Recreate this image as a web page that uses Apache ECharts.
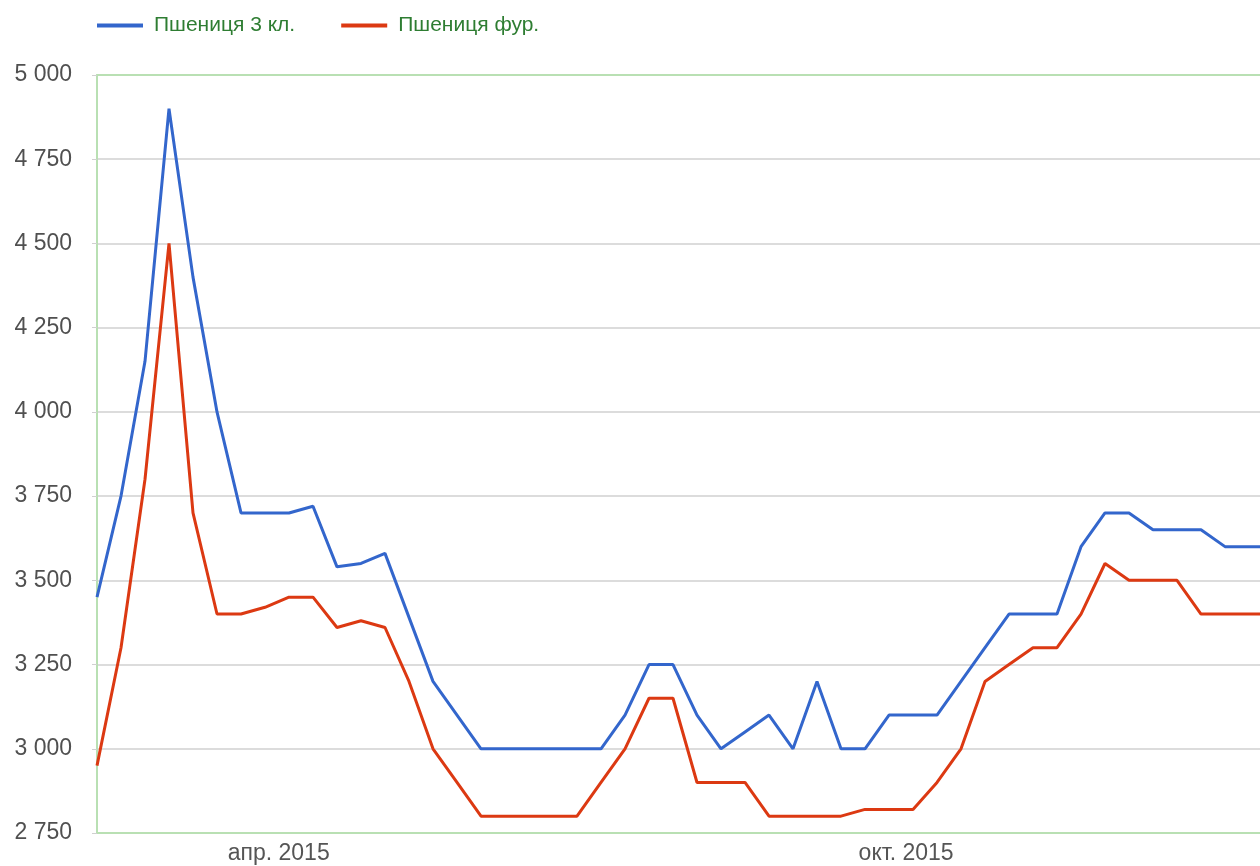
<!DOCTYPE html>
<html>
<head>
<meta charset="utf-8">
<script src="https://cdn.jsdelivr.net/npm/echarts@6/dist/echarts.min.js"></script>
<style>
html,body{margin:0;padding:0;background:#fff;}
#chart{width:1260px;height:866px;}
</style>
</head>
<body>
<div id="chart"></div>
<script>
// Weekly dates
const dates = [
  '2015-02-07','2015-02-14','2015-02-21','2015-02-28','2015-03-07','2015-03-14','2015-03-21','2015-03-28',
  '2015-04-04','2015-04-11','2015-04-18','2015-04-25','2015-05-02','2015-05-09','2015-05-16','2015-05-23',
  '2015-05-30','2015-06-06','2015-06-13','2015-06-20','2015-06-27','2015-07-04','2015-07-11','2015-07-18',
  '2015-07-25','2015-08-01','2015-08-08','2015-08-15','2015-08-22','2015-08-29','2015-09-05','2015-09-12',
  '2015-09-19','2015-09-26','2015-10-03','2015-10-10','2015-10-17','2015-10-24','2015-10-31','2015-11-07',
  '2015-11-14','2015-11-21','2015-11-28','2015-12-05','2015-12-12','2015-12-19','2015-12-26','2016-01-02',
  '2016-01-09','2016-01-16'
];
const wheat3 = [
  3450,3750,4150,4900,4400,4000,3700,3700,
  3700,3720,3540,3550,3580,3390,3200,3100,
  3000,3000,3000,3000,3000,3000,3100,3250,
  3250,3100,3000,3050,3100,3000,3200,3000,
  3000,3100,3100,3100,3200,3300,3400,3400,
  3400,3600,3700,3700,3650,3650,3650,3600,
  3600,3600
];
const wheatFeed = [
  2950,3300,3800,4500,3700,3400,3400,3420,
  3450,3450,3360,3380,3360,3200,3000,2900,
  2800,2800,2800,2800,2800,2900,3000,3150,
  3150,2900,2900,2900,2800,2800,2800,2800,
  2820,2820,2820,2900,3000,3200,3250,3300,
  3300,3400,3550,3500,3500,3500,3400,3400,
  3400,3400
];
const seriesNames = ['Пшениця 3 кл.','Пшениця фур.'];
const xLabelDates = ['2015-04-01','2015-10-01'];
const xLabelTexts = ['апр. 2015','окт. 2015'];
const yTicks = [2750,3000,3250,3500,3750,4000,4250,4500,4750,5000];

const DAY = 86400000;
function dayNum(s){const p=s.split('-');return Math.round(Date.UTC(+p[0],+p[1]-1,+p[2])/DAY);}
const d0 = dayNum(dates[0]);
const gridLeft = 97, gridRight = 0;
const plotW = 1260 - gridLeft - gridRight;
const xMax = plotW / (24/7);
const labelDays = xLabelDates.map(s=>dayNum(s)-d0);

const chart = echarts.init(document.getElementById('chart'), null, {renderer:'canvas'});
const font = 'Arial, "Liberation Sans", sans-serif';
const green = '#b9e0b3';
const splitColors = yTicks.map((v,i)=> i===yTicks.length-1 ? 'rgba(0,0,0,0)' : '#d0d0d0');

chart.setOption({
  animation:false,
  backgroundColor:'#ffffff',
  legend:{
    left:97, top:15, padding:0,
    itemWidth:46, itemHeight:4, itemGap:46,
    icon:'rect',
    textStyle:{color:'#2e7d32', fontSize:21, fontFamily:font, padding:[0,0,0,6]},
    data:seriesNames
  },
  grid:{
    left:gridLeft, right:gridRight, top:75, bottom:33, show:false
  },
  xAxis:[{
    type:'value', min:0, max:xMax, position:'bottom',
    axisLine:{show:true, lineStyle:{color:green, width:2}}, axisTick:{show:false}, splitLine:{show:false},
    axisLabel:{
      customValues: labelDays,
      formatter:function(v){const i=labelDays.indexOf(Math.round(v));return i>=0?xLabelTexts[i]:'';},
      color:'#555', fontSize:23, fontFamily:font, margin:9
    }
  },{
    type:'value', min:0, max:xMax, position:'top',
    axisLine:{show:true, onZero:false, lineStyle:{color:green, width:2}},
    axisTick:{show:false}, splitLine:{show:false}, axisLabel:{show:false}
  }],
  yAxis:{
    type:'value', min:2750, max:5000, interval:250,
    axisLine:{show:true, onZero:false, lineStyle:{color:green, width:2}},
    axisTick:{show:true, length:5, lineStyle:{color:'#d0d0d0'}},
    splitLine:{show:true, lineStyle:{color:splitColors, width:1.5}},
    axisLabel:{
      color:'#505050', fontSize:23, fontFamily:font, margin:25,
      formatter:function(v){return String(v).replace(/\B(?=(\d{3})+(?!\d))/g,' ');}
    }
  },
  series:[
    {name:seriesNames[0], type:'line', symbol:'none', data:dates.map((d,i)=>[dayNum(d)-d0,wheat3[i]]),
     lineStyle:{color:'#3366cc', width:3}, itemStyle:{color:'#3366cc'}, clip:true},
    {name:seriesNames[1], type:'line', symbol:'none', data:dates.map((d,i)=>[dayNum(d)-d0,wheatFeed[i]]),
     lineStyle:{color:'#dc3912', width:3}, itemStyle:{color:'#dc3912'}, clip:true}
  ]
});
</script>
</body>
</html>
